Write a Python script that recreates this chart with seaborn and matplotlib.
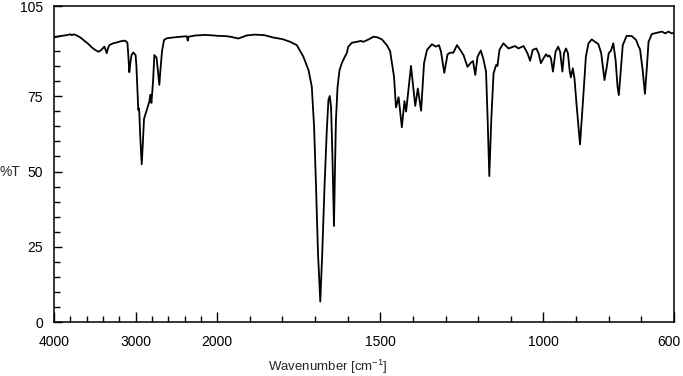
import numpy as np
import matplotlib
matplotlib.use("Agg")
import matplotlib.pyplot as plt
import matplotlib.transforms as mtransforms
import seaborn as sns
from matplotlib.ticker import FixedLocator, NullFormatter

# IR spectrum (wavenumber in cm-1, transmittance in %)
wavenumber = [
    4000, 3925, 3850, 3800, 3780, 3760, 3730, 3680, 3640, 3580, 3535, 3495,
    3455, 3425, 3400, 3383, 3368, 3354, 3340, 3322, 3275, 3230, 3180, 3130,
    3100, 3088, 3077, 3065, 3050, 3028, 3000, 2990, 2979, 2967, 2960, 2954,
    2944, 2925, 2910, 2897, 2864, 2832, 2820, 2806, 2786, 2770, 2743, 2725,
    2709, 2695, 2676, 2652, 2615, 2520, 2400, 2370, 2361, 2350, 2270, 2150,
    2030, 2000, 1975, 1960, 1935, 1910, 1885, 1855, 1827, 1800, 1776, 1756,
    1736, 1720, 1710, 1703, 1697, 1691, 1684, 1678, 1671, 1664, 1659, 1655,
    1651, 1647, 1642, 1639, 1636, 1631, 1625, 1618, 1610, 1603, 1598, 1587,
    1572, 1560, 1552, 1536, 1521, 1509, 1495, 1480, 1470, 1458, 1452, 1444,
    1434, 1426, 1421, 1406, 1393, 1385, 1375, 1366, 1357, 1342, 1330, 1320,
    1314, 1304, 1294, 1286, 1276, 1265, 1258, 1245, 1233, 1222, 1216, 1209,
    1202, 1192, 1184, 1176, 1171, 1166, 1160, 1153, 1145, 1141, 1135, 1123,
    1107, 1087, 1077, 1061, 1049, 1041, 1033, 1022, 1015, 1008, 1000, 992,
    987, 982, 977, 971, 963, 955, 949, 942, 937, 931, 925, 920,
    916, 910, 905, 898, 888, 878, 870, 862, 852, 842, 832, 823,
    818, 813, 806, 800, 793, 786, 779, 773, 769, 763, 757, 745,
    729, 716, 709, 704, 696, 689, 683, 678, 668, 653, 637, 627,
    617, 607, 600,
]
transmittance = [
    94.6, 95.0, 95.3, 95.6, 95.3, 95.6, 95.3, 94.6, 93.7, 92.4, 91.2, 90.4,
    89.8, 90.3, 91.0, 91.5, 90.5, 89.3, 90.8, 92.0, 92.6, 92.9, 93.3, 93.5,
    92.8, 88.0, 83.0, 86.0, 88.7, 89.6, 88.7, 85.0, 78.2, 70.5, 71.0, 69.4,
    62.0, 52.4, 60.0, 67.5, 70.4, 73.2, 75.5, 72.8, 80.0, 88.7, 87.8, 83.0,
    78.8, 84.0, 90.0, 93.7, 94.3, 94.6, 94.9, 94.9, 93.5, 94.8, 95.2, 95.4,
    95.2, 95.1, 95.0, 94.8, 94.2, 95.2, 95.5, 95.3, 94.5, 94.0, 93.1, 92.0,
    88.2, 83.7, 78.2, 64.9, 45.0, 22.8, 6.8, 22.8, 45.0, 63.8, 73.8, 75.1,
    71.5, 56.0, 31.9, 50.5, 67.1, 78.2, 83.7, 86.0, 87.9, 89.3, 91.5, 92.8,
    93.1, 93.4, 93.1, 93.9, 94.8, 94.6, 93.9, 92.0, 90.0, 81.5, 71.3, 74.7,
    64.7, 73.4, 69.9, 85.1, 71.8, 77.6, 70.2, 86.0, 90.4, 92.3, 91.5, 92.0,
    89.8, 82.8, 88.9, 89.5, 89.5, 92.0, 90.9, 88.7, 84.8, 86.2, 86.7, 82.1,
    88.2, 90.2, 87.3, 83.2, 67.1, 48.5, 67.1, 82.6, 85.4, 85.1, 90.4, 92.6,
    90.9, 91.7, 90.9, 91.7, 89.3, 86.8, 90.4, 90.9, 89.3, 86.0, 87.6, 89.0,
    88.2, 88.6, 87.6, 83.2, 89.8, 91.5, 89.8, 83.2, 89.3, 90.9, 89.3, 83.7,
    81.3, 84.3, 81.0, 71.5, 59.0, 74.9, 88.2, 92.6, 93.9, 93.1, 92.4, 89.3,
    84.8, 80.4, 84.8, 89.3, 90.2, 92.6, 87.1, 78.2, 75.4, 83.7, 92.0, 95.1,
    95.0, 93.7, 91.7, 90.6, 83.7, 75.8, 84.8, 93.1, 95.7, 96.1, 96.5, 95.9,
    96.5, 95.9, 96.1,
]

x_major = [4000, 3000, 2000, 1500, 1000, 600]
x_labels = ["4000", "3000", "2000", "1500", "1000", "600"]
y_major = [0, 25, 50, 75, 105]
y_labels = ["0", "25", "50", "75", "105"]


# the wavenumber axis is compressed 4x above 2000 cm-1
def fwd(x):
    x = np.asarray(x, dtype=float)
    return np.where(x > 2000, 2000 + (x - 2000) / 4.0, x)


def inv(u):
    u = np.asarray(u, dtype=float)
    return np.where(u > 2000, 2000 + (u - 2000) * 4.0, u)


sns.set_style("ticks")
plt.rcParams["font.family"] = ["Liberation Sans", "DejaVu Sans"]
plt.rcParams["mathtext.default"] = "regular"

fig = plt.figure(figsize=(6.83, 3.76), dpi=100)
ax = fig.add_axes([0.0791, 0.1436, 0.9077, 0.8404])

sns.lineplot(x=wavenumber, y=transmittance, ax=ax, color="black",
             linewidth=1.3, estimator=None)

ax.set_xscale("function", functions=(fwd, inv))
ax.set_xlim(4000, 600)
ax.set_ylim(0, 105)

ax.xaxis.set_major_locator(FixedLocator(x_major))
ax.set_xticklabels(x_labels)
ax.xaxis.set_minor_locator(FixedLocator(
    [3800, 3600, 3400, 3200, 2800, 2600, 2400, 2200,
     1900, 1800, 1700, 1600, 1400, 1300, 1200, 1100, 900, 800, 700]))
ax.xaxis.set_minor_formatter(NullFormatter())

ax.yaxis.set_major_locator(FixedLocator(y_major))
ax.set_yticklabels(y_labels)
ax.yaxis.set_minor_locator(FixedLocator([v for v in range(5, 105, 5) if v % 25]))
ax.yaxis.set_minor_formatter(NullFormatter())

ax.tick_params(which="both", direction="in", colors="black", width=1.0,
               labelsize=10, top=False, right=False)
ax.tick_params(axis="x", which="major", length=7, pad=9)
ax.tick_params(axis="x", which="minor", length=4.5)
ax.tick_params(axis="y", which="major", length=6, pad=8)
ax.tick_params(axis="y", which="minor", length=4.5)

# keep the last tick label inside the figure
last = ax.get_xticklabels()[-1]
last.set_transform(last.get_transform() +
                   mtransforms.ScaledTranslation(-5 / 100, 0, fig.dpi_scale_trans))

for side in ["left", "right", "top", "bottom"]:
    ax.spines[side].set_visible(True)
    ax.spines[side].set_color("black")
    ax.spines[side].set_linewidth(1.1)

ax.set_ylabel("%T", rotation=0, ha="center", va="center", fontsize=10)
ax.yaxis.set_label_coords(-0.071, 50 / 105)
ax.set_xlabel("Wavenumber [cm$^{-1}$]", fontsize=9.5, va="center")
ax.xaxis.set_label_coords(0.442, -0.142)

fig.savefig("out.png", dpi=100)
